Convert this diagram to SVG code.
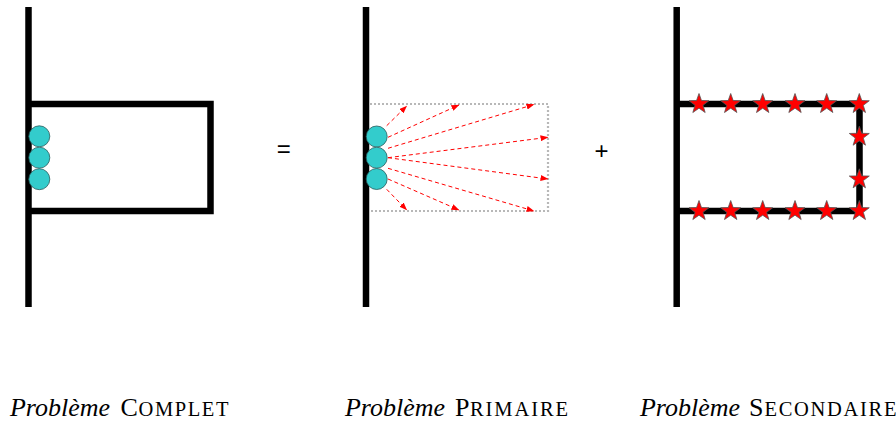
<svg xmlns="http://www.w3.org/2000/svg" width="896" height="425" viewBox="0 0 896 425">
<defs>
<style>
.wall{fill:none;stroke:#000;stroke-width:6.5;stroke-linecap:butt;stroke-linejoin:miter}
.ball{fill:#33CCCC;stroke:#2a5a5a;stroke-width:0.8}
.dom{fill:none;stroke:#b8b8b8;stroke-width:2.2;stroke-dasharray:2,2}
.ray{fill:none;stroke:#ff0000;stroke-width:1;stroke-dasharray:4,3;marker-end:url(#ah)}
.star{fill:#ff0000;stroke:#555;stroke-width:0.8}
.it{font-family:"Liberation Serif","Times New Roman",serif;font-style:italic;font-size:26px;fill:#000}
.cap{font-family:"Liberation Serif","Times New Roman",serif;font-size:26px;fill:#000}
.sc{font-family:"Liberation Serif","Times New Roman",serif;font-size:20.5px;fill:#000}
.op{font-family:"Liberation Sans",Arial,sans-serif;font-size:24px;fill:#000;text-anchor:middle}
</style>
<marker id="ah" markerWidth="8" markerHeight="6" refX="7.5" refY="3" orient="auto" markerUnits="userSpaceOnUse">
<path d="M0,0 L8,3 L0,6 Z" fill="#ff0000"/>
</marker>
<path id="st" class="star" d="M0,-10.5 L2.47,-3.4 L9.99,-3.24 L4,1.3 L6.17,8.5 L0,4.2 L-6.17,8.5 L-4,1.3 L-9.99,-3.24 L-2.47,-3.4 Z"/>
</defs>

<g id="complet">
<line class="wall" x1="28.5" y1="7" x2="28.5" y2="307"/>
<path class="wall" d="M28.5,104 H210.5 V211 H28.5"/>
<circle class="ball" cx="39.3" cy="136.3" r="10.5"/>
<circle class="ball" cx="39.3" cy="157.7" r="10.5"/>
<circle class="ball" cx="39.3" cy="179.2" r="10.5"/>
</g>

<g id="primaire">
<rect class="dom" x="366" y="104" width="182" height="107"/>
<line class="wall" x1="366" y1="7" x2="366" y2="307"/>
<g id="rays">
<line class="ray" x1="386.7" y1="125.7" x2="406.7" y2="106"/>
<line class="ray" x1="388" y1="137.3" x2="459" y2="105"/>
<line class="ray" x1="388" y1="148.3" x2="534" y2="104.5"/>
<line class="ray" x1="388" y1="157.7" x2="548" y2="137.3"/>
<line class="ray" x1="388" y1="157.7" x2="548" y2="179"/>
<line class="ray" x1="388" y1="168.3" x2="534" y2="211"/>
<line class="ray" x1="388" y1="179" x2="459" y2="210"/>
<line class="ray" x1="386.7" y1="189.3" x2="406.7" y2="210"/>
</g>
<circle class="ball" cx="376.7" cy="136.5" r="10.5"/>
<circle class="ball" cx="376.7" cy="157.7" r="10.5"/>
<circle class="ball" cx="376.7" cy="179" r="10.5"/>
</g>

<g id="secondaire">
<line class="wall" x1="676.7" y1="7" x2="676.7" y2="307"/>
<path class="wall" d="M676.7,104 H859.5 V211 H676.7"/>
<use href="#st" x="699" y="104"/>
<use href="#st" x="730.7" y="104"/>
<use href="#st" x="762.7" y="104"/>
<use href="#st" x="795" y="104"/>
<use href="#st" x="826.7" y="104"/>
<use href="#st" x="859.3" y="104"/>
<use href="#st" x="859.3" y="136.7"/>
<use href="#st" x="859.3" y="179.3"/>
<use href="#st" x="699" y="211"/>
<use href="#st" x="730.7" y="211"/>
<use href="#st" x="762.7" y="211"/>
<use href="#st" x="795" y="211"/>
<use href="#st" x="826.7" y="211"/>
<use href="#st" x="859.3" y="211"/>
</g>

<g id="operators">
<text class="op" x="283.7" y="157">=</text>
<text class="op" x="601.5" y="158.5">+</text>
</g>

<g id="labels">
<text class="it" x="10" y="416" textLength="100" lengthAdjust="spacingAndGlyphs">Problème</text>
<text class="cap" x="120.5" y="416">C</text>
<text class="sc" x="138.5" y="416" textLength="90" lengthAdjust="spacing">OMPLET</text>
<text class="it" x="345" y="416" textLength="100" lengthAdjust="spacingAndGlyphs">Problème</text>
<text class="cap" x="455" y="416">P</text>
<text class="sc" x="470" y="416" textLength="98" lengthAdjust="spacing">RIMAIRE</text>
<text class="it" x="640" y="416" textLength="100" lengthAdjust="spacingAndGlyphs">Problème</text>
<text class="cap" x="749" y="416">S</text>
<text class="sc" x="764.5" y="416" textLength="132" lengthAdjust="spacing">ECONDAIRE</text>
</g>
</svg>
